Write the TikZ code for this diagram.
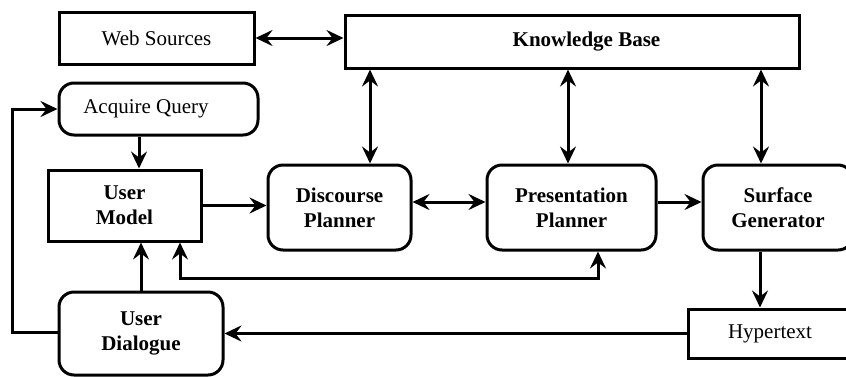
\documentclass[tikz,border=0pt]{standalone}
\usepackage{fontspec}
\setmainfont{Liberation Serif}
\usetikzlibrary{arrows.meta}
\begin{document}
\begin{tikzpicture}[x=0.5pt,y=-0.5pt,
  every node/.style={font=\fontsize{10.5pt}{12.5pt}\selectfont, align=center, inner sep=0pt, line width=1.5pt},
  sqbox/.style={draw, rectangle},
  rbox/.style={draw, rectangle, rounded corners=7.5pt, font=\fontsize{10.5pt}{12.5pt}\selectfont\bfseries},
  conn/.style={line width=1.5pt, -{Stealth[length=8.5pt,width=8pt,inset=3pt]}},
  dconn/.style={line width=1.5pt, {Stealth[length=8.5pt,width=8pt,inset=3pt]}-{Stealth[length=8.5pt,width=8pt,inset=3pt]}},
  plain/.style={line width=1.5pt}
]
\useasboundingbox (0,0) rectangle (846,376);
\clip (0,0) rectangle (846,376);
\node[sqbox, minimum width=97.5pt, minimum height=26pt] (web) at (156.5,38) {Web Sources};
\node[sqbox, minimum width=227pt, minimum height=26.5pt, font=\fontsize{10.5pt}{12.5pt}\selectfont\bfseries] (kb) at (572,41.5) {\hspace*{14.5pt}Knowledge Base};
\node[rbox, minimum width=99.5pt, minimum height=26pt, font=\fontsize{10.5pt}{12.5pt}\selectfont] (acq) at (158.5,109) {Acquire Query\hspace*{12.5pt}};
\node[sqbox, minimum width=76.5pt, minimum height=35.5pt, font=\fontsize{10.5pt}{12.5pt}\selectfont\bfseries] (um) at (124.5,205.5) {User\\Model};
\node[rbox, minimum width=71.5pt, minimum height=42.5pt] (dp) at (339.5,207.5) {Discourse\\Planner};
\node[rbox, minimum width=84.5pt, minimum height=42.5pt] (pp) at (571.5,207.5) {Presentation\\Planner};
\node[rbox, minimum width=75pt, minimum height=42.5pt] (sg) at (778,207.5) {Surface\\Generator};
\node[sqbox, minimum width=82pt, minimum height=24.5pt] (ht) at (770,333.5) {Hypertext};
\node[rbox, minimum width=82pt, minimum height=41.5pt] (ud) at (141,333.5) {User\\Dialogue};

\coordinate (xa) at (370,0);
\coordinate (xb) at (568,0);
\coordinate (xc) at (761,0);
\coordinate (xd) at (139,0);
\coordinate (xe) at (760,0);
\coordinate (ya) at (0,202);
\coordinate (lp1) at (598,278);
\coordinate (lp2) at (180,278);
\coordinate (lf) at (12,332);

\draw[dconn] (web.east) -- (kb.west |- web.east);
\draw[dconn] (kb.south -| xa) -- (dp.north -| xa);
\draw[dconn] (kb.south -| xb) -- (pp.north -| xb);
\draw[dconn] (kb.south -| xc) -- (sg.north -| xc);
\draw[conn] (acq.south -| xd) -- (um.north -| xd);
\draw[conn] (um.east) -- (dp.west |- um.east);
\draw[dconn] (dp.east |- ya) -- (pp.west |- ya);
\draw[conn] (pp.east |- ya) -- (sg.west |- ya);
\draw[conn] (sg.south -| xe) -- (ht.north -| xe);
\draw[conn] (ht.west) -- (ud.east |- ht.west);
\draw[conn] (ud.north) -- (ud.north |- um.south);
\draw[dconn] (pp.south -| lp1) -- (lp1) -- (lp2) -- (um.south -| lp2);
\draw[conn] (ud.west |- lf) -- (lf) |- (acq.west);
\end{tikzpicture}
\end{document}
